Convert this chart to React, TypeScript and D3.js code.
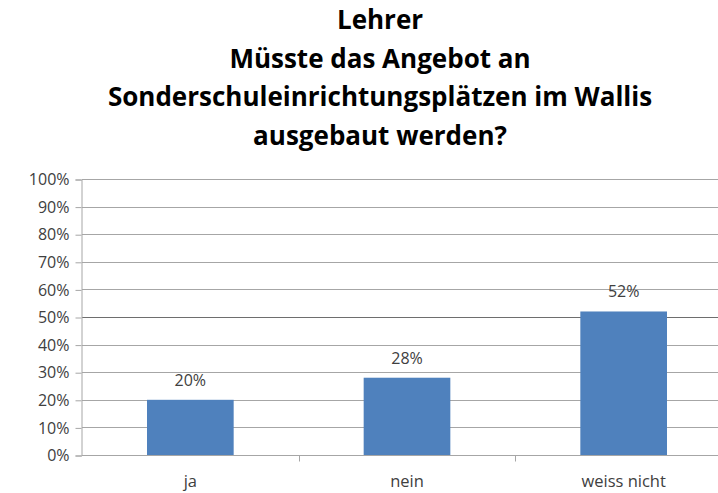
import React, { useEffect, useRef } from "react";
import * as d3 from "d3";

const categories = ["ja", "nein", "weiss nicht"];
const values = [0.2, 0.28, 0.52];
const yTicks = [0, 0.1, 0.2, 0.3, 0.4, 0.5, 0.6, 0.7, 0.8, 0.9, 1];
const titleLines = [
  "Lehrer",
  "Müsste das Angebot an",
  "Sonderschuleinrichtungsplätzen im Wallis",
  "ausgebaut werden?",
];

export default function App() {
  const svgRef = useRef<SVGSVGElement>(null);

  useEffect(() => {
    const width = 718;
    const height = 493;
    const margin = { top: 179, right: -14, bottom: 38, left: 82 };
    const font = "Open Sans, Liberation Sans, sans-serif";

    const svg = d3.select(svgRef.current);
    svg.selectAll("*").remove();
    svg.attr("width", width).attr("height", height);

    svg.append("rect").attr("width", width).attr("height", height).attr("fill", "#fff");

    // Title
    svg.append("g")
      .selectAll("text")
      .data(titleLines)
      .enter()
      .append("text")
      .attr("x", 380)
      .attr("y", (d, i) => 29 + i * 38.5)
      .attr("text-anchor", "middle")
      .attr("font-family", font)
      .attr("font-weight", "bold")
      .attr("font-size", "26px")
      .attr("fill", "#000")
      .text(d => d);

    const xScale = d3.scaleBand()
      .domain(categories)
      .range([margin.left, width - margin.right])
      .paddingInner(0.6)
      .paddingOuter(0.3);

    const yScale = d3.scaleLinear()
      .domain([0, 1])
      .range([height - margin.bottom, margin.top]);

    // Gridlines
    svg.append("g")
      .selectAll("line")
      .data(yTicks.slice(1))
      .enter()
      .append("line")
      .attr("x1", margin.left)
      .attr("x2", width)
      .attr("y1", d => Math.round(yScale(d)) + 0.5)
      .attr("y2", d => Math.round(yScale(d)) + 0.5)
      .attr("stroke", d => (d === 0.5 ? "#6e6e6e" : "#a6a6a6"))
      .attr("stroke-width", 1);

    // Y axis
    const yAxis = d3.axisLeft(yScale)
      .tickValues(yTicks)
      .tickSize(6)
      .tickPadding(6)
      .tickFormat(d3.format(".0%"));
    const yg = svg.append("g")
      .attr("transform", `translate(${margin.left - 0.5},0.5)`)
      .call(yAxis);
    yg.select(".domain").attr("stroke", "#a6a6a6");
    yg.selectAll(".tick line").attr("stroke", "#a6a6a6");
    yg.selectAll(".tick text")
      .attr("font-family", font)
      .attr("font-size", "16px")
      .attr("fill", "#404040");

    // Bars
    svg.append("g")
      .selectAll("rect")
      .data(values)
      .enter()
      .append("rect")
      .attr("x", (d, i) => xScale(categories[i]) as number)
      .attr("y", d => yScale(d))
      .attr("width", xScale.bandwidth())
      .attr("height", d => yScale(0) - yScale(d))
      .attr("fill", "#4f81bd");

    // Value labels
    svg.append("g")
      .selectAll("text")
      .data(values)
      .enter()
      .append("text")
      .attr("x", (d, i) => (xScale(categories[i]) as number) + xScale.bandwidth() / 2)
      .attr("y", d => yScale(d) - 14)
      .attr("text-anchor", "middle")
      .attr("font-family", font)
      .attr("font-size", "16px")
      .attr("fill", "#404040")
      .text(d => d3.format(".0%")(d));

    // X axis
    const y0 = Math.round(yScale(0)) + 0.5;
    svg.append("line")
      .attr("x1", margin.left)
      .attr("x2", width)
      .attr("y1", y0)
      .attr("y2", y0)
      .attr("stroke", "#a6a6a6");
    svg.append("g")
      .selectAll("line")
      .data(categories.slice(1))
      .enter()
      .append("line")
      .attr("x1", d => Math.round((xScale(d) as number) - xScale.bandwidth() * 0.75) + 0.5)
      .attr("x2", d => Math.round((xScale(d) as number) - xScale.bandwidth() * 0.75) + 0.5)
      .attr("y1", y0)
      .attr("y2", y0 + 6)
      .attr("stroke", "#a6a6a6");

    svg.append("g")
      .selectAll("text")
      .data(categories)
      .enter()
      .append("text")
      .attr("x", d => (xScale(d) as number) + xScale.bandwidth() / 2)
      .attr("y", y0 + 31)
      .attr("text-anchor", "middle")
      .attr("font-family", font)
      .attr("font-size", "16.5px")
      .attr("fill", "#404040")
      .text(d => d);
  }, []);

  return (
    <div style={{ position: "absolute", left: 0, top: 0, width: 718, height: 493, overflow: "hidden" }}>
      <svg ref={svgRef} style={{ display: "block" }}></svg>
    </div>
  );
}
